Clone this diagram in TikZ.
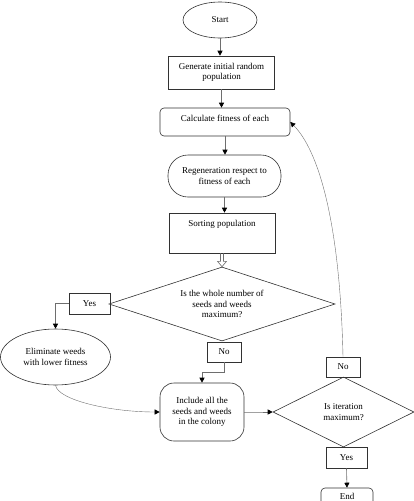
\documentclass[tikz,border=0pt]{standalone}
\usepackage{fontspec}
\setmainfont{Liberation Serif}
\usepackage{tikz}
\usetikzlibrary{shapes.geometric, arrows.meta, positioning, calc}
\definecolor{linecolor}{RGB}{110,110,110}
\definecolor{bordercolor}{RGB}{50,50,50}

\begin{document}
\begin{tikzpicture}[
    x=1pt, y=-1pt,
    every node/.style={draw=bordercolor, line width=0.6pt, font=\fontsize{9}{10.5}\selectfont, align=center, inner sep=0pt},
    terminal/.style={ellipse, minimum width=#1, minimum height=36pt},
    process/.style={rectangle, minimum width=106pt},
    topline/.style={inner ysep=6pt, text height=7pt, text depth=#1},
    decision/.style={diamond, shape aspect=3},
    answer/.style={rectangle, minimum width=#1, minimum height=21pt},
    flow/.style={draw=linecolor, line width=0.6pt, -{Triangle[length=5pt, width=5pt, color=black]}},
    thinflow/.style={draw=linecolor, line width=0.4pt, -{Triangle[length=5pt, width=5pt, color=black]}}
]
    \useasboundingbox (0,0) rectangle (414,501);
    \clip (0,0) rectangle (414,501);

    \node[terminal=74pt] (start) at (220,20) {Start};
    \node[process, minimum height=33pt] (init) at (221.5,72.5) {Generate initial random\\population};
    \node[process, minimum width=130pt, rounded corners=4pt, topline=9pt] (fit) at (225,122) {Calculate fitness of each};
    \node[process, minimum width=113pt, minimum height=42pt, rounded corners=20pt] (regen) at (224.5,176) {Regeneration respect to\\fitness of each};
    \node[process, topline=21pt] (sort) at (222,233) {Sorting population};
    \node[decision, minimum width=226pt, minimum height=74pt] (whole) at (222,304) {Is the whole number of\\seeds and weeds\\maximum?};
    \node[answer=41pt] (yes1) at (89.5,303.5) {Yes};
    \node[terminal=110pt, minimum height=56pt] (elim) at (55.5,357) {Eliminate weeds\\with lower fitness};
    \node[answer=34pt, minimum height=20pt] (no1) at (224,352) {No};
    \node[process, minimum width=84pt, minimum height=58pt, rounded corners=14pt] (incl) at (202,412) {Include all the\\seeds and weeds\\in the colony};
    \node[decision, minimum width=141pt, minimum height=70pt] (iter) at (343.5,412) {Is iteration\\maximum?};
    \node[answer=34pt, minimum height=20pt] (no2) at (343,367) {No};
    \node[answer=41pt] (yes2) at (346.5,457.5) {Yes};
    \node[process, minimum width=52pt, rounded corners=4pt, inner ysep=4pt, text height=7pt, text depth=8pt] (end) at (347,499.5) {End};

    \draw[flow] (start.south) -- (start.south |- init.north);
    \draw[flow] (init.south) -- (init.south |- fit.north);
    \draw[flow] (fit.south) -- (fit.south |- regen.north);
    \draw[flow] (regen.south) -- (regen.south |- sort.north);
    % hollow block arrow into the first decision
    \draw[draw=linecolor, line width=0.6pt] ($(sort.south)+(-1.5,0)$) -- ++(0,8) -- ++(-3,0) -- (whole.north)
        -- ($(sort.south)+(4.5,8)$) -- ++(-3,0) -- ++(0,-8);
    \draw[flow] (yes1.west) -| (elim.north);
    \draw[flow] (no1.south) -- ++(0,10) -| (incl.north);
    \draw[thinflow] (elim.south) .. controls (58,400) and (110,412) .. (incl.west);
    \draw[flow] (incl.east) -- ++(14,0) |- (iter.west);
    \draw[thinflow] (no2.north) .. controls (340,220) and (318,150) .. (fit.east);
    \draw[flow] (yes2.south) -- (end.north);
\end{tikzpicture}
\end{document}
